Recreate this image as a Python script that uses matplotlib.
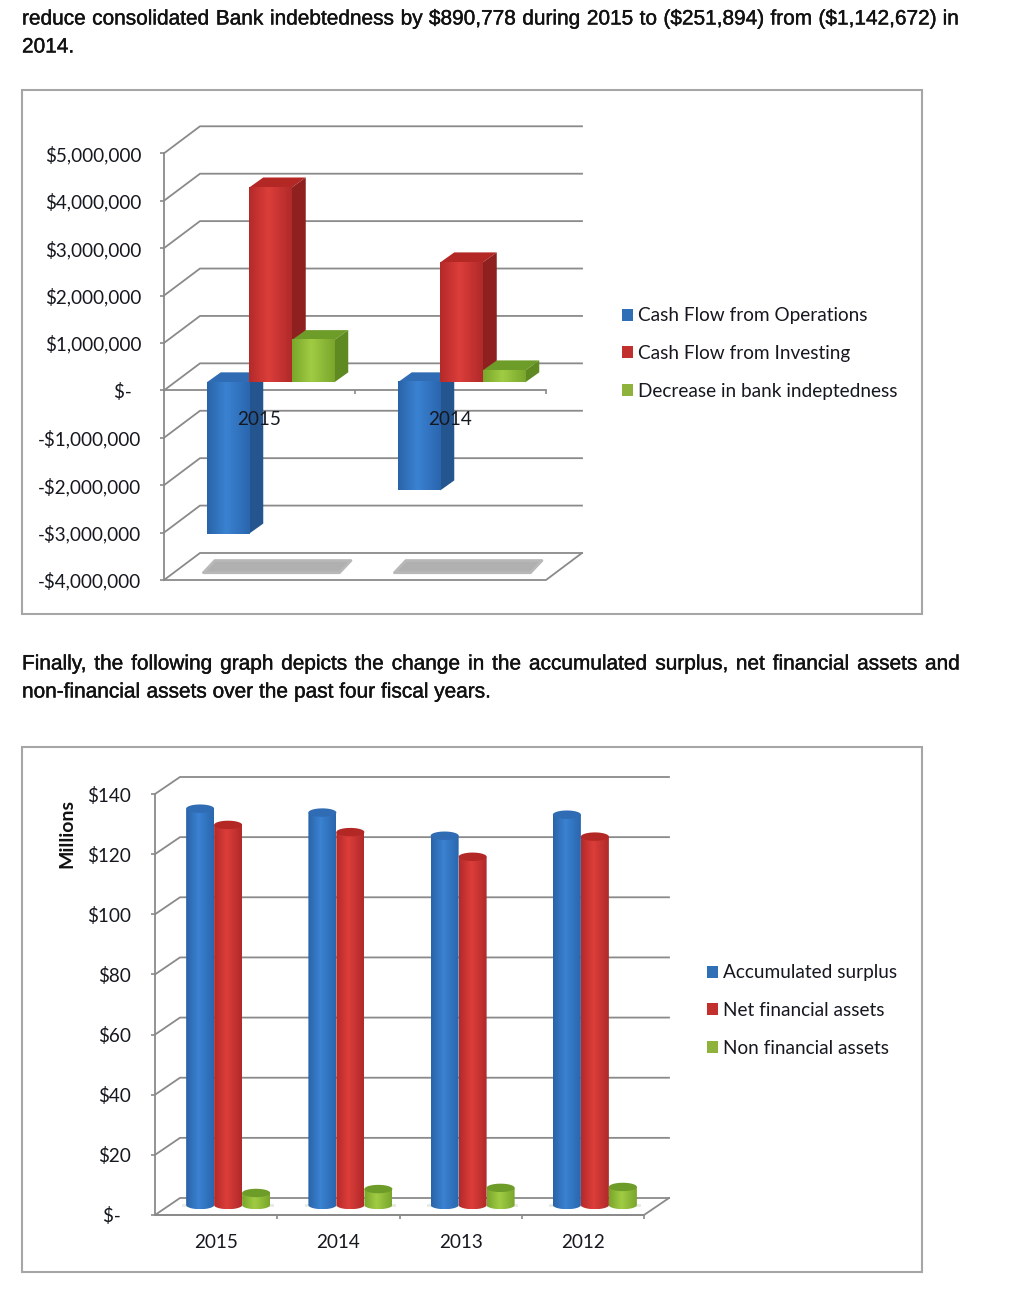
import numpy as np
import matplotlib
matplotlib.use("Agg")
import matplotlib.pyplot as plt
from matplotlib.patches import Polygon, Patch, Rectangle
import matplotlib.patheffects as pe

W, H = 1010, 1312

# ---- data ----
cash_years = ["2015", "2014"]
cash_ops = [-3190000, -2280000]
cash_inv = [4110000, 2530000]
cash_dec = [890778, 251894]
cash_names = ["Cash Flow from Operations", "Cash Flow from Investing", "Decrease in bank indeptedness"]
cash_ticks = [5000000, 4000000, 3000000, 2000000, 1000000, 0, -1000000, -2000000, -3000000, -4000000]
cash_ticklabels = ["$5,000,000", "$4,000,000", "$3,000,000", "$2,000,000", "$1,000,000", "$-\u00a0\u00a0",
                   "-$1,000,000", "-$2,000,000", "-$3,000,000", "-$4,000,000"]

fin_years = ["2015", "2014", "2013", "2012"]
fin_surplus = [131.8, 130.5, 122.8, 129.8]
fin_net = [126.4, 124.0, 115.8, 122.5]
fin_non = [4.0, 5.3, 5.7, 6.0]
fin_names = ["Accumulated surplus", "Net financial assets", "Non financial assets"]
fin_ticks = [140, 120, 100, 80, 60, 40, 20, 0]
fin_ticklabels = ["$140", "$120", "$100", "$80", "$60", "$40", "$20", "$-\u00a0\u00a0"]

para1 = ["reduce consolidated Bank indebtedness by $890,778 during 2015 to ($251,894) from ($1,142,672) in", "2014."]
para2 = ["Finally, the following graph depicts the change in the accumulated surplus, net financial assets and",
         "non-financial assets over the past four fiscal years."]

# ---- styles ----
GRID = "#8a8a8a"
LAB = "#16181f"
FONT = "Lato"
FS = 13.6
BLUE = ["#2a64a8", "#3a82d2", "#2a66ae"]
RED = ["#b42a2a", "#dc3e3a", "#b02a2a"]
GREEN = ["#7aa62c", "#a0cc44", "#7aa62c"]
SIDE = {"b": "#24558f", "r": "#8e2020", "g": "#5f8a22"}
TOP = {"b": "#2f6cb4", "r": "#b32725", "g": "#6e9c28"}
LEG = ["#2f6fb5", "#c2302e", "#8fb23c"]


def hexrgb(c):
    return np.array(matplotlib.colors.to_rgb(c))


def gradient(stops, n=48):
    t = np.linspace(0, 1, n)
    c = np.array([hexrgb(s) for s in stops])
    g = np.stack([np.interp(t, [0, 0.45, 1], c[:, i]) for i in range(3)], axis=1)
    return g[None, :, :]


fig = plt.figure(figsize=(W / 100, H / 100), dpi=100, facecolor="white")
bg = fig.add_axes([0, 0, 1, 1])
bg.set_xlim(0, W)
bg.set_ylim(H, 0)
bg.axis("off")

for t, b in [(90, 614), (747, 1272)]:
    bg.add_patch(Rectangle((22, t), 900, b - t, fc="white", ec="#a6a6a6", lw=1.5))

rend = fig.canvas.get_renderer()
stroke = [pe.withStroke(linewidth=0.3, foreground="#111111")]


def justified(line, y, x0, x1=None, fs=15.0):
    words = line.split(" ")
    arts = [bg.text(0, y, w, family="Liberation Sans", fontsize=fs, color="#111111", va="center",
                    path_effects=stroke) for w in words]
    widths = [a.get_window_extent(rend).width for a in arts]
    space = fs * 100 / 72 * 0.278
    if x1 is not None and len(words) > 1:
        space = (x1 - x0 - sum(widths)) / (len(words) - 1)
    x = x0
    for a, w in zip(arts, widths):
        a.set_x(x)
        x += w + space


justified(para1[0], 19, 22, 959)
justified(para1[1], 47, 22)
justified(para2[0], 664, 22, 960)
justified(para2[1], 692, 22)


def chart_axes(l, t, r, b):
    ax = fig.add_axes([l / W, 1 - b / H, (r - l) / W, (b - t) / H])
    ax.patch.set_alpha(0)
    for s in ("top", "right"):
        ax.spines[s].set_visible(False)
    for s in ("left", "bottom"):
        ax.spines[s].set_color(GRID)
        ax.spines[s].set_linewidth(1.3)
        ax.spines[s].set_zorder(1)
    ax.set_axisbelow(False)
    return ax


def walls(ax, ticks, n, ddx, ddy):
    for v in ticks:
        ax.plot([0, ddx, n + ddx], [v, v + ddy, v + ddy], color=GRID, lw=1.3, zorder=1, clip_on=False,
                solid_joinstyle="miter")
    floor = min(ticks)
    ax.plot([0, n, n + ddx], [floor, floor, floor + ddy], color=GRID, lw=1.3, zorder=1, clip_on=False)


def finish(ax, n, ticks, labels, cats, ylim, pad, xpad):
    ax.set_xlim(0, n)
    ax.set_ylim(*ylim)
    ax.set_yticks(ticks)
    ax.set_yticklabels(labels, family=FONT, fontsize=FS, color=LAB)
    ax.set_xticks(np.arange(n) + 0.5)
    ax.set_xticklabels(cats, family=FONT, fontsize=13.6, color=LAB)
    ax.set_xticks(np.arange(1, n + 1), minor=True)
    ax.tick_params(axis="y", length=3, width=1.2, color=GRID, pad=pad)
    ax.tick_params(axis="x", which="major", length=0, pad=xpad)
    ax.tick_params(axis="x", which="minor", length=3, width=1.2, color=GRID)


def legend(names, colors, px_x, px_y):
    hs = [Patch(fc=c, ec="none", label=s) for s, c in zip(names, colors)]
    fig.legend(handles=hs, loc="center left", bbox_to_anchor=(px_x / W, 1 - px_y / H), frameon=False,
               prop={"family": FONT, "size": FS + 0.1}, labelcolor=LAB, handlelength=0.6, handleheight=0.6,
               handletextpad=0.22, labelspacing=1.08, borderpad=0, borderaxespad=0)


# ---- chart 1: boxes ----
ax1 = chart_axes(164, 153.3, 546, 580)
ax1.spines["bottom"].set_position(("data", 0))
n1 = len(cash_years)
per_cat, per_unit = 191.0, 47.4 / 1e6
ddx1, ddy1 = 36 / per_cat, 27 / per_unit
walls(ax1, cash_ticks, n1, ddx1, ddy1)
fx1, fy1 = 11 / per_cat, 8 / per_unit
sx1, sy1 = 14 / per_cat, 10 / per_unit
w1 = 0.2225
series1 = [(cash_ops, BLUE, "b"), (cash_inv, RED, "r"), (cash_dec, GREEN, "g")]

for i in range(n1):
    left = i + 0.5 - 1.5 * w1
    fl = cash_ticks[-1]
    x0, x1 = left + 0.04, i + 0.5 + 1.5 * w1 + 0.085
    y0, y1 = fl + 0.27 * ddy1, fl + 0.72 * ddy1
    ax1.add_patch(Polygon([(x0, y0), (x1, y0), (x1 + 0.06, y1), (x0 + 0.06, y1)], closed=True,
                          fc="#b0b0b0", ec="#b8b8b8", lw=2, joinstyle="round", zorder=1.2, clip_on=False))
    for j, (vals, grad, key) in enumerate(series1):
        v = vals[i]
        xl = left + j * w1 + fx1
        xr = xl + w1
        lo, hi = min(v, 0) + fy1, max(v, 0) + fy1
        ax1.add_patch(Polygon([(xl, hi), (xr, hi), (xr + sx1, hi + sy1), (xl + sx1, hi + sy1)], closed=True,
                              fc=TOP[key], ec="none", zorder=2, clip_on=False))
        ax1.add_patch(Polygon([(xr, lo), (xr + sx1, lo + sy1), (xr + sx1, hi + sy1), (xr, hi)], closed=True,
                              fc=SIDE[key], ec="none", zorder=2, clip_on=False))
        ax1.imshow(gradient(grad), extent=(xl, xr, lo, hi), aspect="auto", zorder=2, clip_on=False,
                   interpolation="bilinear")

finish(ax1, n1, cash_ticks, cash_ticklabels, cash_years, (cash_ticks[-1], cash_ticks[0]), 13.5, 15)
legend(cash_names, LEG, 622, 353.5)

# ---- chart 2: cylinders ----
ax2 = chart_axes(155, 794, 644, 1215)
n2 = len(fin_years)
per_cat2, per_unit2 = 122.25, 60.14 / 20
ddx2, ddy2 = 25 / per_cat2, 17 / per_unit2
walls(ax2, fin_ticks, n2, ddx2, ddy2)
fx2, fy2 = 12 / per_cat2, 10 / per_unit2
w2 = 0.229
eh = 4.2 / per_unit2
series2 = [(fin_surplus, BLUE, "b"), (fin_net, RED, "r"), (fin_non, GREEN, "g")]
th = np.linspace(0, np.pi, 40)

for i in range(n2):
    left = i + 0.5 - 1.5 * w2
    for j, (vals, grad, key) in enumerate(series2):
        v = vals[i]
        xl = left + j * w2 + fx2
        xr = xl + w2
        xc, rx = (xl + xr) / 2, w2 / 2
        ybase, ytop = fy2, fy2 + v
        arc_x = xc + rx * np.cos(th)
        arc_s = np.sin(th) * eh
        outline = np.r_[np.c_[arc_x[::-1], ybase - arc_s[::-1]], np.c_[arc_x, ytop + 0 * arc_s]]
        body = Polygon(outline, closed=True, transform=ax2.transData, fc="none", ec="none")
        ax2.add_patch(body)
        ax2.add_patch(Polygon(np.c_[np.r_[xl - 0.03, xr + 0.03, xr + 0.03, xl - 0.03],
                                    np.r_[ybase - 0.5 * eh, ybase - 0.5 * eh, ybase + 0.3 * eh, ybase + 0.3 * eh]],
                              closed=True, fc="#e9ebe5", ec="none", zorder=1.5, clip_on=False))
        im = ax2.imshow(gradient(grad), extent=(xl, xr, ybase - eh, ytop), aspect="auto", zorder=2,
                        interpolation="bilinear")
        im.set_clip_path(body)
        top = np.r_[np.c_[arc_x, ytop + arc_s], np.c_[arc_x[::-1], ytop - arc_s[::-1]]]
        ax2.add_patch(Polygon(top, closed=True, fc=TOP[key], ec="none", zorder=2, clip_on=False))

finish(ax2, n2, fin_ticks, fin_ticklabels, fin_years, (fin_ticks[-1], fin_ticks[0]), 14.5, 14)
ax2.set_ylabel("Millions", family=FONT, fontsize=14, fontweight="bold", color="#111111")
ax2.yaxis.set_label_coords((75 - 155) / 489, (1215 - 834) / 421)
legend(fin_names, LEG, 707, 1010.5)

fig.savefig("out.png", dpi=100)
